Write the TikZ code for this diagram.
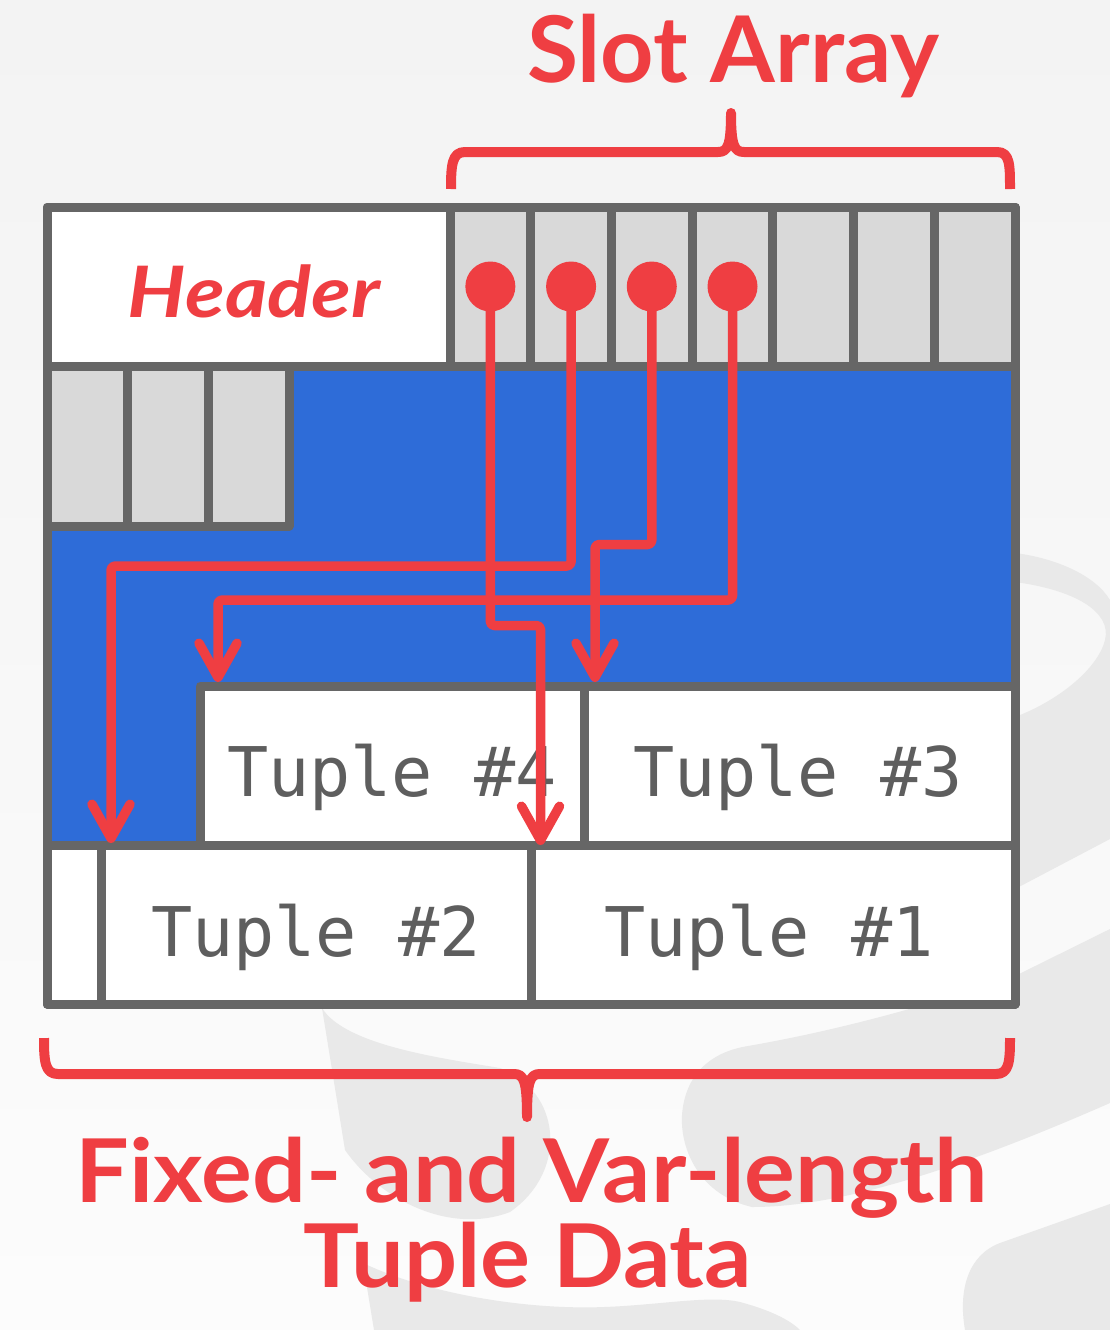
\documentclass[tikz,border=0pt]{standalone}
\usepackage{graphicx}
\usepackage{fontspec}
\setmainfont{Lato}
\setmonofont{DejaVu Sans Mono}
\usetikzlibrary{arrows.meta}
\definecolor{dbred}{HTML}{EF3E42}
\definecolor{dbblue}{HTML}{2E6CD8}
\definecolor{dbgray}{HTML}{666666}
\definecolor{slotgray}{HTML}{D9D9D9}
\definecolor{txtgray}{HTML}{5E5E5E}
\definecolor{wm}{HTML}{E9E9E9}
\definecolor{bgtop}{HTML}{F3F3F3}
\definecolor{bgbot}{HTML}{FCFCFC}
\begin{document}
\begin{tikzpicture}[x=1pt,y=-1pt,
  cell/.style={draw=dbgray, line width=9pt, inner sep=0pt, outer sep=0pt, rectangle, line join=round},
  slotcell/.style={cell, fill=slotgray, minimum width=80.714pt, minimum height=159pt},
  graycell/.style={cell, fill=slotgray, minimum width=80.667pt, minimum height=160pt},
  dot/.style={circle, fill=dbred, inner sep=0pt, minimum size=50pt},
  ptr/.style={draw=dbred, line width=9.5pt, rounded corners=4pt, line join=round,
    -{Straight Barb[length=34pt,width=38pt,round]}},
  brace/.style={draw=dbred, line width=10pt, line join=round},
  title/.style={anchor=base, text=dbred, inner sep=0pt},
  tuptxt/.style={anchor=base, text=txtgray, inner sep=0pt, font=\ttfamily\fontsize{68.5}{68.5}\selectfont}
]
\useasboundingbox (0,0) rectangle (1110,1330);
\shade[top color=bgtop, bottom color=bgbot] (0,0) rectangle (1110,1330);

% watermark
\fill[wm, even odd rule]
  (1000,553) -- (1015,553) .. controls (1055,558) and (1095,575) .. (1110,600) -- (1110,839) -- (1015,889) -- (1000,889) -- cycle
  (1000,582) -- (1015,582) .. controls (1075,590) and (1112,612) .. (1105,640) .. controls (1098,668) and (1060,700) .. (1015,717) -- (1000,717) -- cycle;
\fill[wm] (1110,929) -- (1110,1103) .. controls (980,1160) and (850,1207) .. (752,1207)
  .. controls (700,1195) and (680,1150) .. (682,1115) .. controls (685,1075) and (710,1052) .. (748,1046)
  .. controls (840,1030) and (930,1005) .. (1015,976) -- cycle;
\fill[wm] (1110,1204) -- (1110,1330) -- (965,1330) .. controls (958,1290) and (968,1255) .. (1000,1243) -- cycle;
\fill[wm] (322,1008) .. controls (345,1045) and (440,1058) .. (500,1068)
  .. controls (560,1090) and (570,1170) .. (510,1212) .. controls (450,1235) and (380,1200) .. (345,1150) -- cycle;
\fill[wm] (363,1263) .. controls (430,1295) and (530,1310) .. (604,1307)
  .. controls (660,1305) and (710,1295) .. (740,1302) .. controls (770,1310) and (790,1320) .. (800,1330) -- (374,1330) -- cycle;

% page frame and free space
\node[cell, fill=dbblue, minimum width=968pt, minimum height=797pt] (page) at (531,605.5) {};
% header and slot array
\node[cell, fill=white, minimum width=403pt, minimum height=159pt] (header) at (248.5,286.5) {};
\foreach \i in {1,...,7} \node[slotcell] (s\i) at ({450+(\i-0.5)*80.714},286.5) {};
% free slots in second row
\foreach \i in {1,2,3} \node[graycell] (g\i) at ({47+(\i-0.5)*80.667},446) {};
% tuples
\node[cell, fill=white, minimum width=384pt, minimum height=159pt] (t4) at (392,765.5) {};
\node[cell, fill=white, minimum width=431pt, minimum height=159pt] (t3) at (799.5,765.5) {};
\node[cell, fill=white, minimum width=54pt, minimum height=159pt] (e0) at (74,924.5) {};
\node[cell, fill=white, minimum width=430pt, minimum height=159pt] (t2) at (316,924.5) {};
\node[cell, fill=white, minimum width=484pt, minimum height=159pt] (t1) at (773,924.5) {};

% texts
\node[title, font=\fontsize{71}{71}\selectfont\bfseries\itshape] (hdr) at (254,317) {\resizebox{252pt}{\height}{Header}};
\node[tuptxt] (l4) at (392,796) {Tuple \#4};
\node[tuptxt] (l3) at (798,796) {Tuple \#3};
\node[tuptxt] (l2) at (316,956) {Tuple \#2};
\node[tuptxt] (l1) at (769,956) {Tuple \#1};

% slot pointers
\foreach \i in {1,...,4} \node[dot] (d\i) at (s\i.center) {};
\coordinate (a1) at (540.5,845);
\coordinate (a2) at (111,843);
\coordinate (a3) at (595,682);
\coordinate (a4) at (218,682);
\draw[ptr] (d1.center) |- (540.5,625.5) -- (a1);
\draw[ptr] (d2.center) |- (111,566) -- (a2);
\draw[ptr] (d3.center) |- (595,544.5) -- (a3);
\draw[ptr] (d4.center) |- (218,600) -- (a4);

% braces
\coordinate (tb1) at (451,189);
\coordinate (tb2) at (1010,189);
\draw[brace] (tb1) .. controls (451,165) and (452,152) .. (465,152) -- (718,152)
  .. controls (728,152) and (731,145) .. (731,113) .. controls (731,145) and (734,152) .. (744,152)
  -- (997,152) .. controls (1010,152) and (1010,165) .. (tb2);
\coordinate (bb1) at (44,1038);
\coordinate (bb2) at (1010,1038);
\draw[brace] (bb1) .. controls (44,1062) and (45,1074) .. (58,1074) -- (514,1074)
  .. controls (524,1074) and (527,1081) .. (527,1117) .. controls (527,1081) and (530,1074) .. (540,1074)
  -- (996,1074) .. controls (1009,1074) and (1010,1062) .. (bb2);

% labels
\node[title, font=\fontsize{92}{92}\selectfont\bfseries] (slotlbl) at (733,83) {\resizebox{412pt}{\height}{Slot Array}};
\node[title, font=\fontsize{88}{88}\selectfont\bfseries] (fixlbl) at (532,1202) {\resizebox{912pt}{\height}{Fixed- and Var-length}};
\node[title, font=\fontsize{88}{88}\selectfont\bfseries] (tuplbl) at (528,1287) {\resizebox{448pt}{\height}{Tuple Data}};
\end{tikzpicture}
\end{document}
